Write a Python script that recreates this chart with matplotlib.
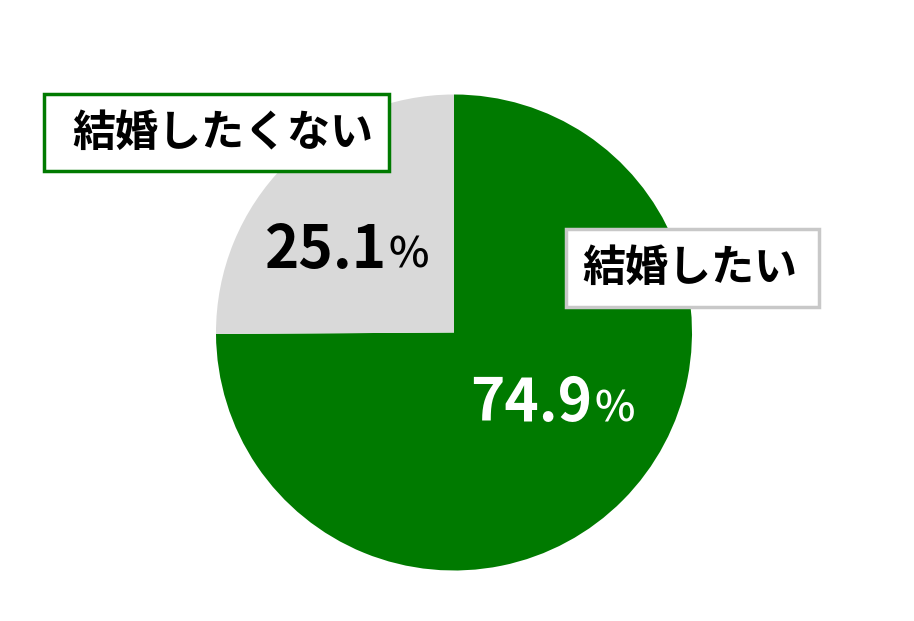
import matplotlib
matplotlib.use("Agg")
import matplotlib.pyplot as plt
from matplotlib.patches import Rectangle

labels = ["結婚したい", "結婚したくない"]
values = [74.9, 25.1]
colors = ["#007A00", "#D9D9D9"]

W, H = 914, 621
fig = plt.figure(figsize=(W / 100, H / 100), dpi=100)
ax = fig.add_axes([0, 0, 1, 1])
ax.set_xlim(0, W)
ax.set_ylim(0, H)
ax.set_aspect("equal")
ax.axis("off")

def Y(y):
    return H - y

cx, cy, r = 454, 332.5, 238
ax.pie(values, colors=colors, startangle=90, counterclock=False,
       center=(cx, Y(cy)), radius=r, frame=True,
       wedgeprops=dict(linewidth=0))
ax.set_xlim(0, W)
ax.set_ylim(0, H)
ax.axis("off")

fam = ["Noto Sans CJK JP", "DejaVu Sans"]

# percentage labels
def pct(x_split, base_y, val, color):
    ax.text(x_split, Y(base_y), f"{val:.1f}", ha="right", va="baseline",
            fontsize=42, fontweight="bold", color=color, family=fam)
    ax.text(x_split + 2, Y(base_y), "%", ha="left", va="baseline",
            fontsize=31, fontweight="medium", color=color, family=fam)

pct(387, 268, values[1], "black")
pct(592, 421, values[0], "white")

# label boxes
def box(x0, y0, x1, y1, edge, text, tx):
    ax.add_patch(Rectangle((x0, Y(y1)), x1 - x0, y1 - y0, facecolor="white",
                           edgecolor=edge, linewidth=2.5, zorder=5))
    ax.text(tx, Y((y0 + y1) / 2), text, ha="center", va="center",
            fontsize=31, fontweight="bold", color="black", family=fam, zorder=6)

box(44, 94, 389, 171, "#007A00", labels[1], 223)
box(566, 229, 819, 307, "#C8C8C8", labels[0], 690)

fig.savefig("out.png", dpi=100)
